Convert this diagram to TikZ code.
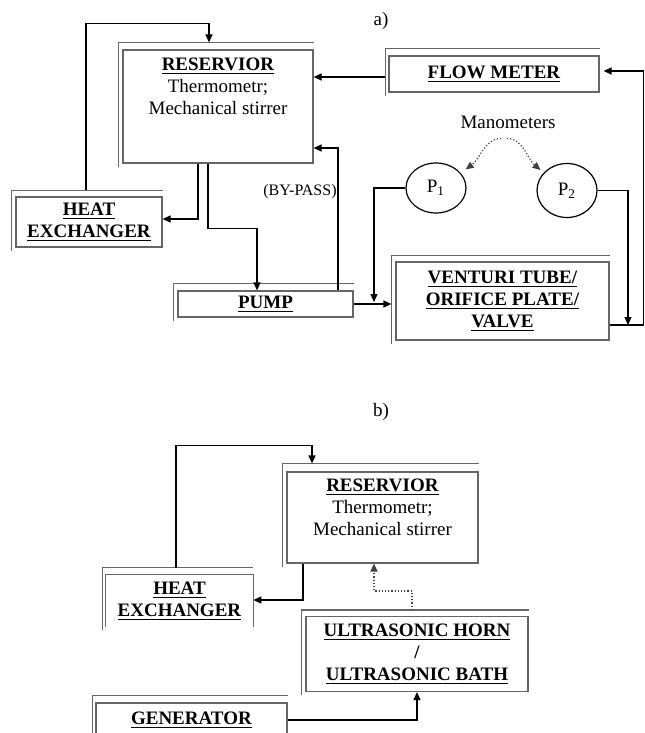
\documentclass[tikz,border=0pt]{standalone}
\usepackage{fontspec}
\setmainfont{Liberation Serif}
\usepackage{tikz}
\usetikzlibrary{positioning,arrows.meta,shapes.geometric}

\newcommand{\boxtitle}[1]{\underline{\textbf{#1}}}

\begin{document}
\begin{tikzpicture}[
    x=0.5pt, y=-0.5pt,
    every node/.style={font=\fontsize{9.5}{11}\selectfont},
    unit/.style={rectangle, draw=black!60, line width=0.6pt, align=center, inner sep=0pt},
    openunit/.style={rectangle, align=center, inner sep=0pt},
    frame/.style={draw=black!60, line width=0.6pt},
    gauge/.style={ellipse, draw, line width=0.6pt, minimum width=30pt, minimum height=25pt, inner sep=0pt},
    txt/.style={align=center, inner sep=0pt},
    flow/.style={->, line width=0.6pt},
    signal/.style={->, line width=0.6pt, densely dotted, black!75},
    >={Triangle[length=4pt,width=3.5pt]}
]
\useasboundingbox (0,0) rectangle (644,733);
\clip (0,0) rectangle (644,733);

% ----- a) -----
\node (lbl_a) at (381,21) {a)};
\node[unit, minimum width=95pt, minimum height=56.5pt] (res_a) at (218,106.5) {};
\node[txt, below=4pt of res_a.north] (res_a_txt) {\boxtitle{RESERVIOR}\\Thermometr;\\Mechanical stirrer};
\node[unit, minimum width=73pt, minimum height=25pt] (hx_a) at (89,222) {\boxtitle{HEAT}\\\boxtitle{EXCHANGER}};
\node[unit, minimum width=87.5pt, minimum height=13pt] (pump) at (265.5,304) {\boxtitle{PUMP}};
\node[unit, minimum width=105pt, minimum height=18pt] (fm) at (494,74) {\boxtitle{FLOW METER}};
\node[unit, minimum width=106.5pt, minimum height=39pt] (vt) at (502.5,301) {\boxtitle{VENTURI TUBE/}\\\boxtitle{ORIFICE PLATE/}\\\boxtitle{VALVE}};
\node[gauge] (p1) at (436,188) {P\textsubscript{1}};
\node[gauge, minimum height=27pt] (p2) at (567,190.5) {P\textsubscript{2}};
\node (mano) at (508,122) {Manometers};
\node[font=\fontsize{8}{9}\selectfont] (bypass) at (300,192) {(BY-PASS)};

% ----- b) -----
\node (lbl_b) at (381,412) {b)};
\node[unit, minimum width=95.5pt, minimum height=45.5pt] (res_b) at (382.5,517.5) {};
\node[txt, below=3.5pt of res_b.north] (res_b_txt) {\boxtitle{RESERVIOR}\\Thermometr;\\Mechanical stirrer};
\node[openunit, minimum width=73.5pt, minimum height=26pt] (hx_b) at (179.5,601) {\boxtitle{HEAT}\\\boxtitle{EXCHANGER}};
\draw[frame] (hx_b.south west) -- (hx_b.north west) -- (hx_b.north east) -- (hx_b.south east);
\node[unit, minimum width=111pt, minimum height=37.5pt] (uh) at (417,654) {\boxtitle{ULTRASONIC HORN}\\\textbf{/}\\\boxtitle{ULTRASONIC BATH}};
\node[unit, minimum width=95.5pt, minimum height=17pt] (gen) at (191.5,720) {\boxtitle{GENERATOR}};

% ----- Shadow frames -----
\foreach \n/\dx/\dy in {res_a/4/7, hx_a/4/6, pump/4/7, fm/3/7, vt/4/6, res_b/4/8, hx_b/3/7, uh/4/6, gen/3/7}{
    \draw[frame] ([shift={(-\dx,3)}]\n.south west) |- ([shift={(0,-\dy)}]\n.north east);
}

% ----- Connections a) -----
\draw[flow] ([shift={(-3,-6)}]hx_a.north) -- ++(0,-167) -| ([shift={(-9,-7)}]res_a.north);
\draw[flow] ([shift={(-20,0)}]res_a.south) |- ([shift={(0,-3)}]hx_a.east);
\draw[flow] ([shift={(-10,0)}]res_a.south) -- ++(0,65) -| ([shift={(-8.5,0)}]pump.north);
\draw[flow] ([shift={(72.5,0)}]pump.north) |- ([shift={(0,41.5)}]res_a.east);
\coordinate (fm_in) at ([shift={(-3,3)}]fm.west);
\draw[flow] (fm_in) -- (fm_in -| res_a.east);
\draw[flow] ([shift={(0,24)}]vt.east) -- ++(33.5,0) |- ([shift={(4,-3)}]fm.east);
\coordinate (drop2) at (628,325);
\draw[flow] (p2.east) -| (drop2);
\coordinate (drop1) at (374,302);
\draw[flow] (p1.west) -| (drop1);
\coordinate (vt_in) at ([shift={(-4,0)}]vt.west);
\draw[flow] (pump.east) -- (pump.east -| vt_in);
\draw[signal] ([shift={(-7,3)}]mano.south) .. controls +(-16,0) and +(14,-10) .. ([shift={(10,1)}]p1.45);
\draw[signal] ([shift={(-1,3)}]mano.south) .. controls +(16,0) and +(-13,-11) .. ([shift={(-6,0)}]p2.135);

% ----- Connections b) -----
\draw[flow] ([shift={(-3.5,-7)}]hx_b.north) -- ++(0,-122) -| ([shift={(-70.5,-8)}]res_b.north);
\draw[flow] ([shift={(-79.5,0)}]res_b.south) |- ([shift={(0,-1)}]hx_b.east);
\draw[signal] ([shift={(-5,-6)}]uh.north) -- ++(0,-19) -| ([shift={(-8.5,0)}]res_b.south);
\draw[flow] (gen.east) -| (uh.south);

\end{tikzpicture}
\end{document}
